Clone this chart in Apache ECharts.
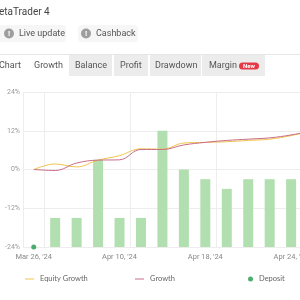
<!DOCTYPE html>
<html><head><meta charset="utf-8">
<script src="https://cdn.jsdelivr.net/npm/echarts@6/dist/echarts.min.js"></script>
<style>html,body{margin:0;padding:0;background:#fff}#c{width:300px;height:300px}</style>
</head><body><div id="c"></div>
<script>
// Data
var categories = ["Mar 26, '24","Apr 2, '24","Apr 4, '24","Apr 8, '24","Apr 10, '24","Apr 11, '24","Apr 12, '24","Apr 16, '24","Apr 18, '24","Apr 19, '24","Apr 22, '24","Apr 23, '24","Apr 24, '24","Apr 25, '24"];
var equityGrowth = [0, 1.7, 0.8, 2.9, 4.3, 6.4, 6.3, 8.2, 8.4, 8.6, 9.0, 9.4, 10.5, 12.0];
var growth = [0, -0.3, 2.0, 2.9, 3.0, 6.2, 6.2, 7.6, 8.4, 9.0, 9.4, 9.8, 10.7, 12.0];
var barValues = [null, 3, 3, 9, 3, 3, 12, 8, 7, 6, 7, 7, 7, 7];
var deposit = [0, null, null, null, null, null, null, null, null, null, null, null, null, null];
var yTicks = [-24, -12, 0, 12, 24];

var chart = echarts.init(document.getElementById('c'), null, {renderer:'canvas'});
var font = 'Roboto, "Noto Sans", sans-serif';
function tab(x, w, label, tx, grey){
  var els = [];
  if (grey) els.push({type:'rect', shape:{x:x,y:55,width:w,height:21}, style:{fill:'#ececec'}, silent:true});
  els.push({type:'text', style:{text:label, x:tx, y:65.5, fill:'#555', fontSize:9, fontFamily:font, verticalAlign:'middle'}});
  return els;
}
var graphics = [
  {type:'text', style:{text:'etaTrader 4', x:-1, y:12, fill:'#444', fontSize:10, fontFamily:font, verticalAlign:'middle'}},
  {type:'rect', shape:{x:-6,y:25,width:72,height:17,r:4}, style:{fill:'#f6f6f6'}},
  {type:'circle', shape:{cx:9,cy:33.5,r:5}, style:{fill:'#9e9e9e'}},
  {type:'text', style:{text:'!', x:9, y:33.5, fill:'#fff', fontSize:8, fontWeight:'bold', fontFamily:font, align:'center', verticalAlign:'middle'}},
  {type:'text', style:{text:'Live update', x:19, y:33.5, fill:'#555', fontSize:9, fontFamily:font, verticalAlign:'middle'}},
  {type:'rect', shape:{x:78,y:25,width:60,height:17,r:4}, style:{fill:'#f6f6f6'}},
  {type:'circle', shape:{cx:86,cy:33.5,r:5}, style:{fill:'#9e9e9e'}},
  {type:'text', style:{text:'!', x:86, y:33.5, fill:'#fff', fontSize:8, fontWeight:'bold', fontFamily:font, align:'center', verticalAlign:'middle'}},
  {type:'text', style:{text:'Cashback', x:96, y:33.5, fill:'#555', fontSize:9, fontFamily:font, verticalAlign:'middle'}},
  {type:'line', shape:{x1:0,y1:54.5,x2:300,y2:54.5}, style:{stroke:'#e6e6e6', lineWidth:1}}
];
graphics = graphics.concat(tab(0,0,'Chart',-1,false), tab(28,41,'Growth',34,false),
  tab(69,43,'Balance',75,true), tab(114,34,'Profit',120,true), tab(150,51,'Drawdown',155,true), tab(202,63,'Margin',209,true));
graphics.push({type:'rect', shape:{x:239,y:62.5,width:20,height:7,r:3.5}, style:{fill:'#e53945'}});
graphics.push({type:'text', style:{text:'New', x:249, y:66, fill:'#fff', fontSize:6, fontWeight:'bold', fontFamily:font, align:'center', verticalAlign:'middle'}});

function legend(name, left, icon, color, w, h){
  return {data:[{name:name, icon:icon, itemStyle:{color:color}}], left:left, top:270, itemWidth:w, itemHeight:h, itemGap:0,
    textStyle:{color:'#666', fontSize:7.5, fontFamily:'Lato, sans-serif', padding:[0,0,0,1]}, selectedMode:false};
}

chart.setOption({
  animation:false,
  backgroundColor:'#fff',
  graphic: graphics,
  legend:[legend('Equity Growth',20,'rect','#f0c44c',9,1), legend('Growth',130,'rect','#c86d86',9,1), legend('Deposit',243,'circle','#1e9a4b',5,5)],
  grid:{left:23, top:92, height:155, width:300.3, containLabel:false, outerBoundsMode:'none'},
  xAxis:{type:'category', data:categories, boundaryGap:true,
    axisLine:{show:false}, axisTick:{show:false},
    axisLabel:{interval:3, color:'#888', fontSize:7.5, fontFamily:font, margin:6},
    splitLine:{show:true, interval:function(i){return i===0 || (i-1)%4===0;}, lineStyle:{color:'#ededed', width:1}}
  },
  yAxis:[
    {type:'value', min:yTicks[0], max:yTicks[yTicks.length-1], interval:12,
      axisLine:{show:false}, axisTick:{show:false},
      axisLabel:{color:'#999', fontSize:7, fontFamily:font, margin:3, formatter:function(v){return v+'%';}},
      splitLine:{lineStyle:{color:'#ededed', width:1}}},
    {type:'value', min:0, max:16, show:false, splitLine:{show:false}}
  ],
  series:[
    {name:'Deposits bars', type:'bar', yAxisIndex:1, data:barValues, barWidth:10, itemStyle:{color:'#b2dfb0'}, z:1},
    {name:'Equity Growth', type:'line', data:equityGrowth, smooth:0.4, showSymbol:false, lineStyle:{color:'#f0c44c', width:1}, itemStyle:{color:'#f0c44c'}, z:3},
    {name:'Growth', type:'line', data:growth, smooth:0.4, showSymbol:false, lineStyle:{color:'#c86d86', width:1}, itemStyle:{color:'#c86d86'}, z:3},
    {name:'Deposit', type:'scatter', yAxisIndex:1, data:deposit, symbolSize:5, itemStyle:{color:'#1e9a4b'}, z:4}
  ]
});
</script></body></html>
